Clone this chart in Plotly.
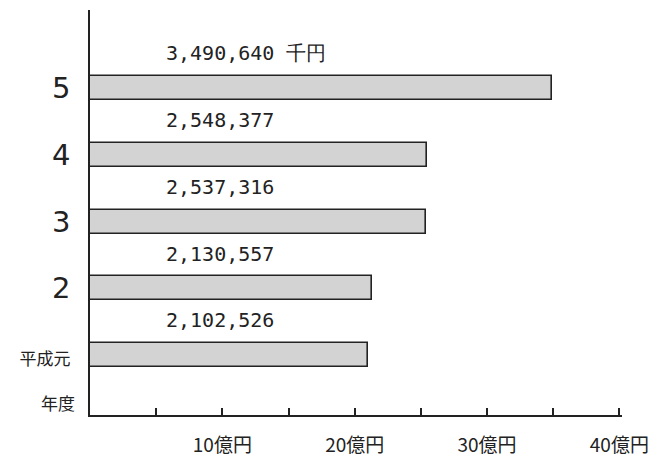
import plotly.graph_objects as go

# data (values in 千円)
categories = ["平成元", "2", "3", "4", "5"]
values = [2102526, 2130557, 2537316, 2548377, 3490640]
value_labels = ["2,102,526", "2,130,557", "2,537,316", "2,548,377", "3,490,640 千円"]
x_tickvals = [0, 500000, 1000000, 1500000, 2000000, 2500000, 3000000, 3500000, 4000000]
x_ticktext = ["", "", "10億円", "", "20億円", "", "30億円", "", "40億円"]
y_ticktext = ["<span style='font-size:17px;font-family:Noto Sans CJK JP'>平成元</span>", "2", "3", "4", "5"]

ink = "#222222"
fig = go.Figure()
fig.add_trace(go.Bar(
    y=list(range(len(categories))), x=values, orientation="h",
    width=0.36,
    marker=dict(color="#d3d3d3", line=dict(color=ink, width=1.6)),
    hoverinfo="skip",
))

for i, lab in enumerate(value_labels):
    fig.add_annotation(
        x=560000, y=i + 0.52, xref="x", yref="y", text=lab,
        showarrow=False, xanchor="left", yanchor="middle",
        font=dict(size=20, color=ink, family="DejaVu Sans Mono, monospace"),
    )

fig.add_annotation(
    x=-0.025, y=-0.72, xref="paper", yref="y", text="年度",
    showarrow=False, xanchor="right", yanchor="middle",
    font=dict(size=17, color=ink, family="Noto Sans CJK JP"),
)

# page body adds an 8px offset; size/margins compensate so the plot lands where the reference has it
fig.update_layout(
    width=649, height=454,
    margin=dict(l=82, r=35, t=2, b=47),
    paper_bgcolor="#ffffff", plot_bgcolor="#ffffff",
    showlegend=False,
    bargap=0,
    font=dict(family="Noto Sans CJK JP", color=ink),
)
fig.update_xaxes(
    range=[0, 4020000], tickvals=x_tickvals, ticktext=x_ticktext,
    ticks="inside", ticklen=7, tickwidth=1.5, tickcolor=ink,
    showline=True, linecolor=ink, linewidth=1.5,
    showgrid=False, zeroline=False, automargin=False,
    ticklabelstandoff=12,
    tickfont=dict(size=19, color=ink, family="Noto Sans CJK JP"),
)
fig.update_yaxes(
    range=[-0.9, 5.17], tickvals=list(range(len(categories))), ticktext=y_ticktext,
    ticks="", showline=True, linecolor=ink, linewidth=1.5,
    showgrid=False, zeroline=False, automargin=False,
    ticklabelstandoff=12,
    tickfont=dict(size=29, color=ink, family="DejaVu Sans ExtraLight, DejaVu Sans, sans-serif"),
)

fig.write_html("out.html")
